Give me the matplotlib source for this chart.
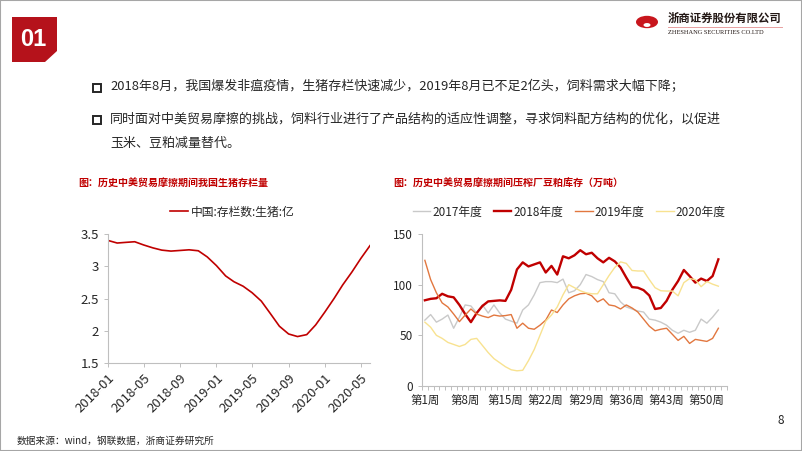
import numpy as np
import pandas as pd
import matplotlib
matplotlib.use("Agg")
import matplotlib.pyplot as plt
import matplotlib.dates as mdates
from matplotlib.patches import Rectangle, Polygon, Circle
from matplotlib.lines import Line2D

plt.rcParams['font.family'] = ['Noto Sans CJK SC', 'DejaVu Sans']
plt.rcParams['axes.unicode_minus'] = False

W, H = 802, 451

# ---- data: left chart (生猪存栏, 亿头, monthly) ----
months = pd.date_range('2018-01-01', '2020-06-01', freq='MS')
pig_stock = [3.40, 3.36, 3.37, 3.38, 3.33, 3.285, 3.25, 3.235, 3.245, 3.255,
             3.24, 3.145, 3.01, 2.85, 2.76, 2.69, 2.59, 2.46, 2.27, 2.07,
             1.95, 1.91, 1.94, 2.09, 2.29, 2.50, 2.71, 2.91, 3.12, 3.32]

# ---- data: right chart (豆粕库存, 万吨, weekly) ----
weeks = list(range(1, 53))
week_labels = ['第1周', '第8周', '第15周', '第22周', '第29周', '第36周', '第43周', '第50周']
week_label_pos = [1, 8, 15, 22, 29, 36, 43, 50]

stock_2017 = [65, 70.5, 63, 66, 70, 57, 68, 80, 79, 72,
              80, 72, 80, 72, 66, 64, 62, 75, 80, 90,
              102, 103, 103, 102, 105.5, 92, 94, 100, 110, 108,
              105, 103, 92, 91, 83, 78, 76, 74, 73, 66,
              65, 63, 60, 55, 52, 55, 53, 55, 66, 62,
              68, 75]
stock_2018 = [84.6, 86, 86.6, 91, 88.5, 87.5, 80, 71, 63, 72,
              79, 83.5, 84, 84.5, 84, 95, 115, 122, 118, 120,
              122, 112, 118.5, 110, 128, 126, 129, 134, 130, 131.5,
              126, 122, 126.5, 123, 117, 107, 97.6, 97, 94.6, 89.3,
              76, 77, 84, 95, 103.6, 114.5, 108.5, 102, 106, 103.6,
              108.5, 125]
stock_2019 = [124, 105, 92, 82, 78, 71, 63.5, 70, 76, 71,
              69, 67.5, 70, 69, 69.5, 70.5, 57, 62, 57, 56,
              60, 65, 75, 72.5, 80, 86, 89, 91, 91.5, 89,
              83, 86, 80, 79, 76, 80, 77, 73, 66, 59,
              54.5, 56, 57, 51, 45, 49, 42, 46, 45, 44,
              47, 57]
stock_2020 = [63, 58, 50, 47, 43, 41, 39, 41, 46, 47,
              40, 33, 27, 23, 19, 16, 15, 15.5, 25, 36,
              50, 64, 70, 78, 90, 100, 97, 94, 92, 91,
              91, 100, 109, 117, 122.5, 121, 114, 113.5, 113.5, 105,
              97, 94, 93.7, 93.7, 89, 102, 106, 105, 98, 103,
              100.5, 98.5]

series = [('2017年度', stock_2017, '#C9C9C9', 1.0),
          ('2018年度', stock_2018, '#C00000', 1.7),
          ('2019年度', stock_2019, '#E2773F', 1.0),
          ('2020年度', stock_2020, '#F8E290', 1.0)]

RED = '#C00000'
TXT = '#262626'
AX_GRAY = '#BFBFBF'


def fx(x):
    return x / W


def fy(y):
    return 1 - y / H


fig = plt.figure(figsize=(W / 100, H / 100), dpi=100)

# slide frame
fig.patches.append(Rectangle((0, 0), 1, 1, transform=fig.transFigure, fill=False,
                             edgecolor='#A6A6A6', lw=1.5))

# "01" badge
badge = [(12, 17), (57, 17), (57, 51), (45, 62), (12, 62)]
fig.patches.append(Polygon([(fx(a), fy(b)) for a, b in badge], closed=True,
                           transform=fig.transFigure, facecolor='#B5121B', edgecolor='none'))
fig.text(fx(33), fy(39), '01', color='white', fontsize=17, fontweight='bold',
         ha='center', va='center', family=['Liberation Sans Narrow', 'Liberation Sans'])

# logo
fig.patches.append(Circle((fx(647), fy(22)), 11 / W, transform=fig.transFigure,
                          facecolor='#C8161D', edgecolor='none'))
fig.patches.append(Circle((fx(647), fy(25)), 3.5 / W, transform=fig.transFigure,
                          facecolor='white', edgecolor='none'))
fig.text(fx(668), fy(18), '浙商证券股份有限公司', fontsize=8.2, fontweight='bold',
         color='#231815', ha='left', va='center')
fig.add_artist(Line2D([fx(668), fx(782)], [fy(26.5), fy(26.5)], color='#E8A0A0', lw=0.7))
fig.text(fx(668), fy(32), 'ZHESHANG SECURITIES CO.LTD', fontsize=4.6, color='#231815',
         ha='left', va='center', family=['Liberation Serif', 'DejaVu Serif'])

# bullets
for by in (87, 119):
    fig.patches.append(Rectangle((fx(93), fy(by + 4.5)), 8 / W, 8 / H, transform=fig.transFigure,
                                 fill=False, edgecolor=TXT, lw=1.4))
fig.text(fx(110), fy(87), '2018年8月，我国爆发非瘟疫情，生猪存栏快速减少，2019年8月已不足2亿头，饲料需求大幅下降；',
         fontsize=9.35, color=TXT, ha='left', va='center')
fig.text(fx(110), fy(119), '同时面对中美贸易摩擦的挑战，饲料行业进行了产品结构的适应性调整，寻求饲料配方结构的优化，以促进',
         fontsize=9.35, color=TXT, ha='left', va='center')
fig.text(fx(110), fy(143), '玉米、豆粕减量替代。', fontsize=9.35, color=TXT, ha='left', va='center')

# chart titles
fig.text(fx(78), fy(184), '图：历史中美贸易摩擦期间我国生猪存栏量', fontsize=7.2, fontweight='bold',
         color=RED, ha='left', va='center')
fig.text(fx(393), fy(184), '图：历史中美贸易摩擦期间压榨厂豆粕库存（万吨）', fontsize=7.2, fontweight='bold',
         color=RED, ha='left', va='center')

# ---- left chart ----
ax1 = fig.add_axes([fx(108), fy(363), (370 - 108) / W, (363 - 234) / H])
ax1.plot(months, pig_stock, color=RED, lw=1.2, label='中国:存栏数:生猪:亿')
ax1.set_ylim(1.5, 3.5)
ax1.set_yticks([1.5, 2, 2.5, 3, 3.5])
ax1.set_yticklabels(['1.5', '2', '2.5', '3', '3.5'])
ax1.set_xlim(pd.Timestamp('2018-01-01'), pd.Timestamp('2020-06-01'))
ax1.xaxis.set_major_locator(mdates.MonthLocator(bymonth=[1, 5, 9]))
ax1.xaxis.set_major_formatter(mdates.DateFormatter('%Y-%m'))
ax1.legend(loc='center', bbox_to_anchor=(fx(232), fy(212)), bbox_transform=fig.transFigure,
           frameon=False, fontsize=8.5, handlelength=1.6, handletextpad=0.2,
           labelcolor=TXT)

# ---- right chart ----
ax2 = fig.add_axes([fx(422), fy(386), (727 - 422) / W, (386 - 234) / H])
for name, vals, col, lw in series:
    ax2.plot(weeks, vals, color=col, lw=lw, label=name)
ax2.set_ylim(0, 150)
ax2.set_yticks([0, 50, 100, 150])
ax2.set_xlim(0.5, 53.5)
ax2.set_xticks(np.arange(0.5, 54, 1))
ax2.set_xticklabels([])
ax2.set_xticks(week_label_pos, minor=True)
ax2.set_xticklabels(week_labels, minor=True)
ax2.tick_params(axis='x', which='minor', length=0, pad=6, labelsize=8.3, labelcolor=TXT)
ax2.legend(loc='center', bbox_to_anchor=(fx(569), fy(212)), bbox_transform=fig.transFigure,
           ncol=4, frameon=False, fontsize=8.5, handlelength=1.5, handletextpad=0.15,
           columnspacing=1.0, labelcolor=TXT)

for ax in (ax1, ax2):
    for s in ('top', 'right'):
        ax.spines[s].set_visible(False)
    for s in ('left', 'bottom'):
        ax.spines[s].set_color(AX_GRAY)
        ax.spines[s].set_linewidth(0.8)
    ax.tick_params(axis='both', which='major', direction='out', length=3, width=0.7,
                   color=AX_GRAY, labelsize=8.5, labelcolor=TXT)
    ax.set_facecolor('none')

# left chart labels are a bit larger than the right one
ax1.tick_params(axis='both', labelsize=9.5)
for lab in ax1.get_xticklabels():
    lab.set_rotation(45)
    lab.set_ha('right')
    lab.set_rotation_mode('anchor')

# footer
fig.text(fx(17), fy(441), '数据来源：wind，钢联数据，浙商证券研究所', fontsize=7, color=TXT,
         ha='left', va='center')
fig.text(fx(781), fy(421), '8', fontsize=8.5, color=TXT, ha='center', va='center')

fig.savefig('out.png', dpi=100)
